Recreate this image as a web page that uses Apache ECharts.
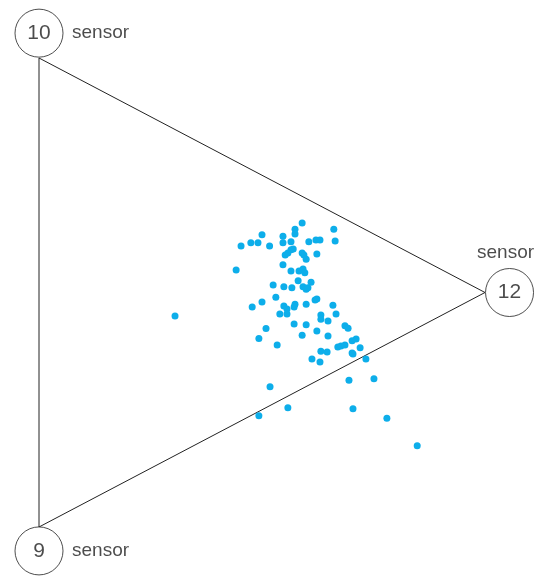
<!DOCTYPE html>
<html>
<head>
<meta charset="utf-8">
<script src="https://cdn.jsdelivr.net/npm/echarts@6/dist/echarts.min.js"></script>
<style>html,body{margin:0;padding:0;background:#fff}#c{width:550px;height:576px}</style>
</head>
<body>
<div id="c"></div>
<script>
// Triangle vertices (normalized plot coordinates): sensor 10 (top), sensor 9 (bottom), sensor 12 (right)
const sensorNames = ['10', '9', '12'];
const vertexPoints = [[0, 1], [0, 0], [1, 0.5]];
const nodeCenters = [[0, 1.053], [0, -0.051], [1.055, 0.5]];
const axisLabel = 'sensor';

// Observations (normalized coordinates inside the triangle)
const obsX = [0.500,0.453,0.475,0.491,0.517,0.442,0.525,0.531,0.500,0.478,0.305,0.540,0.509,0.493,
  0.590,0.574,0.661,0.574,0.547,0.547,0.565,0.621,0.630,0.664,0.605,0.570,0.565,0.558,0.552,0.590,
  0.594,0.599,0.623,0.547,0.565,0.583,0.592,0.596,0.549,0.567,0.581,0.610,0.592,0.599,0.603,0.549,
  0.556,0.556,0.574,0.572,0.599,0.619,0.623,0.659,0.632,0.632,0.648,0.666,0.572,0.599,0.623,0.686,
  0.693,0.590,0.648,0.711,0.534,0.670,0.677,0.686,0.702,0.720,0.632,0.646,0.702,0.704,0.612,0.630,
  0.733,0.518,0.695,0.751,0.558,0.704,0.780,0.848,0.493];
const obsY = [0.623,0.599,0.606,0.606,0.599,0.548,0.516,0.490,0.480,0.469,0.450,0.454,0.423,0.402,
  0.648,0.635,0.635,0.625,0.620,0.606,0.608,0.612,0.612,0.610,0.608,0.593,0.591,0.584,0.580,0.584,
  0.580,0.571,0.582,0.559,0.546,0.546,0.550,0.542,0.512,0.510,0.525,0.522,0.512,0.507,0.510,0.471,
  0.465,0.454,0.475,0.469,0.475,0.484,0.486,0.473,0.452,0.443,0.439,0.454,0.433,0.431,0.418,0.429,
  0.424,0.409,0.407,0.401,0.388,0.384,0.386,0.388,0.397,0.382,0.375,0.373,0.371,0.369,0.358,0.352,
  0.358,0.299,0.313,0.316,0.254,0.252,0.232,0.173,0.237];

const chart = echarts.init(document.getElementById('c'), null, {renderer: 'canvas'});
const textColor = '#1e1e1e';
const fontFamily = 'Liberation Sans, Arial, sans-serif';

const triangle = vertexPoints.concat([vertexPoints[0]]);
const labelPos = ['right', 'right', 'top'];

chart.setOption({
  animation: false,
  backgroundColor: '#fff',
  grid: {left: 39, top: 58, width: 446, height: 469},
  xAxis: {type: 'value', min: 0, max: 1, show: false},
  yAxis: {type: 'value', min: 0, max: 1, show: false},
  series: [
    {
      type: 'line',
      data: triangle,
      symbol: 'none',
      clip: false,
      lineStyle: {color: '#222', width: 1},
      z: 1
    },
    {
      type: 'scatter',
      data: obsX.map((x, i) => [x, obsY[i]]),
      symbolSize: 7,
      itemStyle: {color: '#0daeea', opacity: 1},
      z: 3
    },
    {
      type: 'scatter',
      clip: false,
      data: nodeCenters.map((p, i) => ({value: p, name: sensorNames[i]})),
      symbol: 'circle',
      symbolSize: 48,
      itemStyle: {color: '#fff', borderColor: '#222', borderWidth: 1},
      label: {
        show: true, position: 'inside',
        formatter: p => p.name,
        color: textColor, fontSize: 21, fontFamily: fontFamily
      },
      z: 4
    },
    {
      type: 'scatter',
      clip: false,
      data: nodeCenters.map((p, i) => ({
        value: p,
        label: {position: labelPos[i], distance: labelPos[i] === 'top' ? 6 : 9,
                offset: labelPos[i] === 'top' ? [-4, 0] : [0, 0]}
      })),
      symbolSize: 48,
      itemStyle: {color: 'rgba(0,0,0,0)', borderWidth: 0},
      label: {
        show: true,
        formatter: () => axisLabel,
        color: textColor, fontSize: 19, fontFamily: fontFamily
      },
      silent: true,
      z: 5
    }
  ]
});
</script>
</body>
</html>
